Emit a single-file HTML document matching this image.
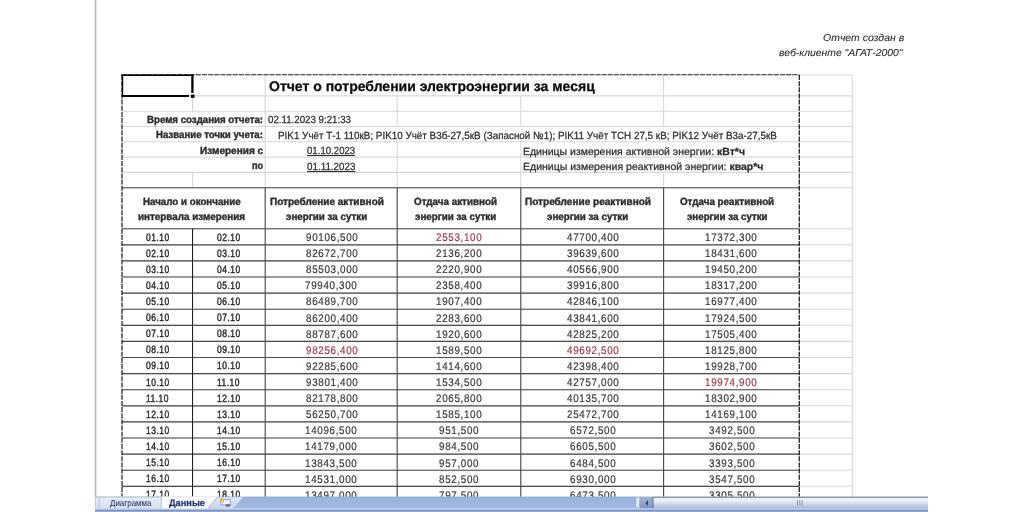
<!DOCTYPE html>
<html><head><meta charset="utf-8"><style>
html,body{margin:0;padding:0;background:#fff;width:1024px;height:512px;overflow:hidden}
body{position:relative;font-family:'Liberation Sans', sans-serif}
span{position:absolute;white-space:pre;transform-origin:0 0;line-height:normal;font-family:'Liberation Sans', sans-serif;-webkit-text-stroke:0.25px currentColor;text-rendering:geometricPrecision}
#wrap{position:absolute;left:0;top:0;width:1024px;height:512px;filter:blur(0.35px)}
</style></head><body>
<div id="wrap">
<svg width="1024" height="512" style="position:absolute;left:0;top:0"><line x1="122.00" y1="75.00" x2="852.20" y2="75.00" stroke="#d7d7d7" stroke-width="1.1" /><line x1="122.00" y1="95.90" x2="852.20" y2="95.90" stroke="#d7d7d7" stroke-width="1.1" /><line x1="122.00" y1="111.20" x2="852.20" y2="111.20" stroke="#d7d7d7" stroke-width="1.1" /><line x1="122.00" y1="126.50" x2="852.20" y2="126.50" stroke="#d7d7d7" stroke-width="1.1" /><line x1="122.00" y1="141.80" x2="852.20" y2="141.80" stroke="#d7d7d7" stroke-width="1.1" /><line x1="122.00" y1="157.10" x2="852.20" y2="157.10" stroke="#d7d7d7" stroke-width="1.1" /><line x1="122.00" y1="172.40" x2="852.20" y2="172.40" stroke="#d7d7d7" stroke-width="1.1" /><line x1="122.00" y1="187.70" x2="852.20" y2="187.70" stroke="#d7d7d7" stroke-width="1.1" /><line x1="122.00" y1="228.70" x2="852.20" y2="228.70" stroke="#d7d7d7" stroke-width="1.1" /><line x1="122.00" y1="244.80" x2="852.20" y2="244.80" stroke="#d7d7d7" stroke-width="1.1" /><line x1="122.00" y1="260.90" x2="852.20" y2="260.90" stroke="#d7d7d7" stroke-width="1.1" /><line x1="122.00" y1="277.00" x2="852.20" y2="277.00" stroke="#d7d7d7" stroke-width="1.1" /><line x1="122.00" y1="293.10" x2="852.20" y2="293.10" stroke="#d7d7d7" stroke-width="1.1" /><line x1="122.00" y1="309.20" x2="852.20" y2="309.20" stroke="#d7d7d7" stroke-width="1.1" /><line x1="122.00" y1="325.30" x2="852.20" y2="325.30" stroke="#d7d7d7" stroke-width="1.1" /><line x1="122.00" y1="341.40" x2="852.20" y2="341.40" stroke="#d7d7d7" stroke-width="1.1" /><line x1="122.00" y1="357.50" x2="852.20" y2="357.50" stroke="#d7d7d7" stroke-width="1.1" /><line x1="122.00" y1="373.60" x2="852.20" y2="373.60" stroke="#d7d7d7" stroke-width="1.1" /><line x1="122.00" y1="389.70" x2="852.20" y2="389.70" stroke="#d7d7d7" stroke-width="1.1" /><line x1="122.00" y1="405.80" x2="852.20" y2="405.80" stroke="#d7d7d7" stroke-width="1.1" /><line x1="122.00" y1="421.90" x2="852.20" y2="421.90" stroke="#d7d7d7" stroke-width="1.1" /><line x1="122.00" y1="438.00" x2="852.20" y2="438.00" stroke="#d7d7d7" stroke-width="1.1" /><line x1="122.00" y1="454.10" x2="852.20" y2="454.10" stroke="#d7d7d7" stroke-width="1.1" /><line x1="122.00" y1="470.20" x2="852.20" y2="470.20" stroke="#d7d7d7" stroke-width="1.1" /><line x1="122.00" y1="486.30" x2="852.20" y2="486.30" stroke="#d7d7d7" stroke-width="1.1" /><line x1="192.55" y1="95.90" x2="192.55" y2="111.20" stroke="#d7d7d7" stroke-width="1.1" /><line x1="192.55" y1="172.40" x2="192.55" y2="187.70" stroke="#d7d7d7" stroke-width="1.1" /><line x1="265.20" y1="75.00" x2="265.20" y2="187.70" stroke="#d7d7d7" stroke-width="1.1" /><line x1="397.20" y1="95.90" x2="397.20" y2="126.50" stroke="#d7d7d7" stroke-width="1.1" /><line x1="397.20" y1="141.80" x2="397.20" y2="187.70" stroke="#d7d7d7" stroke-width="1.1" /><line x1="520.80" y1="95.90" x2="520.80" y2="126.50" stroke="#d7d7d7" stroke-width="1.1" /><line x1="520.80" y1="141.80" x2="520.80" y2="187.70" stroke="#d7d7d7" stroke-width="1.1" /><line x1="663.60" y1="75.00" x2="663.60" y2="126.50" stroke="#d7d7d7" stroke-width="1.1" /><line x1="663.60" y1="172.40" x2="663.60" y2="187.70" stroke="#d7d7d7" stroke-width="1.1" /><line x1="852.20" y1="75.00" x2="852.20" y2="496.80" stroke="#d7d7d7" stroke-width="1.1" /><line x1="122.00" y1="187.70" x2="799.30" y2="187.70" stroke="#4a4a4a" stroke-width="1.15" /><line x1="122.00" y1="228.70" x2="799.30" y2="228.70" stroke="#4a4a4a" stroke-width="1.15" /><line x1="122.00" y1="244.80" x2="799.30" y2="244.80" stroke="#4a4a4a" stroke-width="1.15" /><line x1="122.00" y1="260.90" x2="799.30" y2="260.90" stroke="#4a4a4a" stroke-width="1.15" /><line x1="122.00" y1="277.00" x2="799.30" y2="277.00" stroke="#4a4a4a" stroke-width="1.15" /><line x1="122.00" y1="293.10" x2="799.30" y2="293.10" stroke="#4a4a4a" stroke-width="1.15" /><line x1="122.00" y1="309.20" x2="799.30" y2="309.20" stroke="#4a4a4a" stroke-width="1.15" /><line x1="122.00" y1="325.30" x2="799.30" y2="325.30" stroke="#4a4a4a" stroke-width="1.15" /><line x1="122.00" y1="341.40" x2="799.30" y2="341.40" stroke="#4a4a4a" stroke-width="1.15" /><line x1="122.00" y1="357.50" x2="799.30" y2="357.50" stroke="#4a4a4a" stroke-width="1.15" /><line x1="122.00" y1="373.60" x2="799.30" y2="373.60" stroke="#4a4a4a" stroke-width="1.15" /><line x1="122.00" y1="389.70" x2="799.30" y2="389.70" stroke="#4a4a4a" stroke-width="1.15" /><line x1="122.00" y1="405.80" x2="799.30" y2="405.80" stroke="#4a4a4a" stroke-width="1.15" /><line x1="122.00" y1="421.90" x2="799.30" y2="421.90" stroke="#4a4a4a" stroke-width="1.15" /><line x1="122.00" y1="438.00" x2="799.30" y2="438.00" stroke="#4a4a4a" stroke-width="1.15" /><line x1="122.00" y1="454.10" x2="799.30" y2="454.10" stroke="#4a4a4a" stroke-width="1.15" /><line x1="122.00" y1="470.20" x2="799.30" y2="470.20" stroke="#4a4a4a" stroke-width="1.15" /><line x1="122.00" y1="486.30" x2="799.30" y2="486.30" stroke="#4a4a4a" stroke-width="1.15" /><line x1="192.55" y1="228.70" x2="192.55" y2="496.80" stroke="#1c1c1c" stroke-width="1.05" /><line x1="265.20" y1="187.70" x2="265.20" y2="496.80" stroke="#4a4a4a" stroke-width="1.15" /><line x1="397.20" y1="187.70" x2="397.20" y2="496.80" stroke="#4a4a4a" stroke-width="1.15" /><line x1="520.80" y1="187.70" x2="520.80" y2="496.80" stroke="#4a4a4a" stroke-width="1.15" /><line x1="663.60" y1="187.70" x2="663.60" y2="496.80" stroke="#4a4a4a" stroke-width="1.15" /><line x1="122.00" y1="74.70" x2="799.30" y2="74.70" stroke="#333" stroke-width="1.0" stroke-dasharray="5 1.15"/><line x1="122.00" y1="75.00" x2="122.00" y2="496.80" stroke="#222" stroke-width="1.25" stroke-dasharray="5 1.15"/><line x1="799.30" y1="75.00" x2="799.30" y2="496.80" stroke="#222" stroke-width="1.3" stroke-dasharray="5 1.15"/><line x1="121.00" y1="75.20" x2="193.60" y2="75.20" stroke="#000" stroke-width="1.6" /><line x1="122.50" y1="74.50" x2="122.50" y2="97.00" stroke="#000" stroke-width="1.4" /><line x1="192.40" y1="74.50" x2="192.40" y2="93.00" stroke="#000" stroke-width="2.3" /><line x1="121.80" y1="96.00" x2="189.00" y2="96.00" stroke="#000" stroke-width="2.1" /><rect x="190.9" y="94.6" width="3.6" height="3.3" fill="#000"/><line x1="95.60" y1="0.00" x2="95.60" y2="497.00" stroke="#b2b2b2" stroke-width="1.5" /></svg>
<span style="left:822.70px;top:33.00px;font-size:10px;font-style:italic;-webkit-text-stroke:0.1px currentColor;color:#2a2a2a;transform:scaleX(1.0481);">Отчет создан в</span><span style="left:778.90px;top:48.00px;font-size:10px;font-style:italic;-webkit-text-stroke:0.1px currentColor;color:#2a2a2a;transform:scaleX(1.0375);">веб-клиенте "АГАТ-2000"</span><span style="left:269.00px;top:78.00px;font-size:14px;font-weight:bold;color:#0a0a0a;">Отчет о потреблении электроэнергии за месяц</span><span style="left:146.80px;top:115.00px;font-size:10.4px;font-weight:bold;-webkit-text-stroke:0.4px currentColor;color:#2c2c2c;transform:scaleX(0.9323);">Время создания отчета:</span><span style="left:267.70px;top:115.00px;font-size:10.4px;color:#2c2c2c;transform:scaleX(0.9348);">02.11.2023 9:21:33</span><span style="left:155.70px;top:130.00px;font-size:10.4px;font-weight:bold;-webkit-text-stroke:0.4px currentColor;color:#2c2c2c;transform:scaleX(0.9278);">Название точки учета:</span><span style="left:277.85px;top:131.00px;font-size:10.4px;color:#2c2c2c;transform:scaleX(0.9489);">PIK1 Учёт Т-1 110кВ; PIK10 Учёт В3б-27,5кВ (Запасной №1); PIK11 Учёт ТСН 27,5 кВ; PIK12 Учёт В3а-27,5кВ</span><span style="left:200.20px;top:146.00px;font-size:10.4px;font-weight:bold;-webkit-text-stroke:0.4px currentColor;color:#2c2c2c;transform:scaleX(0.9662);">Измерения с</span><span style="left:251.50px;top:161.00px;font-size:10.4px;font-weight:bold;-webkit-text-stroke:0.4px currentColor;color:#2c2c2c;transform:scaleX(0.8846);">по</span><span style="left:307.40px;top:146.00px;font-size:10.4px;color:#2c2c2c;transform:scaleX(0.9269);"><u>01.10.2023</u></span><span style="left:307.40px;top:162.00px;font-size:10.4px;color:#2c2c2c;transform:scaleX(0.9451);"><u>01.11.2023</u></span><span style="left:522.69px;top:147.00px;font-size:10.4px;color:#2c2c2c;transform:scaleX(1.0091);">Единицы измерения активной энергии: <b>кВт*ч</b></span><span style="left:522.69px;top:162.00px;font-size:10.4px;color:#2c2c2c;transform:scaleX(1.0127);">Единицы измерения реактивной энергии: <b>квар*ч</b></span><span style="left:142.70px;top:197.00px;font-size:10.4px;font-weight:bold;-webkit-text-stroke:0.4px currentColor;color:#2c2c2c;transform:scaleX(0.9375);">Начало и окончание</span><span style="left:137.60px;top:212.00px;font-size:10.4px;font-weight:bold;-webkit-text-stroke:0.4px currentColor;color:#2c2c2c;transform:scaleX(0.9487);">интервала измерения</span><span style="left:270.00px;top:197.00px;font-size:10.4px;font-weight:bold;-webkit-text-stroke:0.4px currentColor;color:#2c2c2c;transform:scaleX(0.9636);">Потребление активной</span><span style="left:286.10px;top:212.00px;font-size:10.4px;font-weight:bold;-webkit-text-stroke:0.4px currentColor;color:#2c2c2c;transform:scaleX(0.9430);">энергии за сутки</span><span style="left:414.00px;top:197.00px;font-size:10.4px;font-weight:bold;-webkit-text-stroke:0.4px currentColor;color:#2c2c2c;transform:scaleX(0.9460);">Отдача активной</span><span style="left:414.60px;top:212.00px;font-size:10.4px;font-weight:bold;-webkit-text-stroke:0.4px currentColor;color:#2c2c2c;transform:scaleX(0.9430);">энергии за сутки</span><span style="left:524.50px;top:197.00px;font-size:10.4px;font-weight:bold;-webkit-text-stroke:0.4px currentColor;color:#2c2c2c;transform:scaleX(0.9669);">Потребление реактивной</span><span style="left:546.80px;top:212.00px;font-size:10.4px;font-weight:bold;-webkit-text-stroke:0.4px currentColor;color:#2c2c2c;transform:scaleX(0.9419);">энергии за сутки</span><span style="left:679.90px;top:197.00px;font-size:10.4px;font-weight:bold;-webkit-text-stroke:0.4px currentColor;color:#2c2c2c;transform:scaleX(0.9430);">Отдача реактивной</span><span style="left:687.20px;top:212.00px;font-size:10.4px;font-weight:bold;-webkit-text-stroke:0.4px currentColor;color:#2c2c2c;transform:scaleX(0.9349);">энергии за сутки</span><span style="left:145.98px;top:232.00px;font-size:10.6px;letter-spacing:0.6px;-webkit-text-stroke:0.45px currentColor;color:#2c2c2c;transform:scaleX(0.8000);">01.10</span><span style="left:216.78px;top:232.00px;font-size:10.6px;letter-spacing:0.6px;-webkit-text-stroke:0.45px currentColor;color:#2c2c2c;transform:scaleX(0.8000);">02.10</span><span style="left:305.50px;top:232.00px;font-size:11.1px;letter-spacing:0.75px;-webkit-text-stroke:0.2px currentColor;color:#363636;transform:scaleX(0.8862);">90106,500</span><span style="left:436.40px;top:232.00px;font-size:11.1px;letter-spacing:0.75px;-webkit-text-stroke:0.2px currentColor;color:#a0384c;transform:scaleX(0.8862);">2553,100</span><span style="left:566.50px;top:232.00px;font-size:11.1px;letter-spacing:0.75px;-webkit-text-stroke:0.2px currentColor;color:#363636;transform:scaleX(0.8862);">47700,400</span><span style="left:705.31px;top:232.00px;font-size:11.1px;letter-spacing:0.75px;-webkit-text-stroke:0.2px currentColor;color:#363636;transform:scaleX(0.8862);">17372,300</span><span style="left:145.98px;top:248.00px;font-size:10.6px;letter-spacing:0.6px;-webkit-text-stroke:0.45px currentColor;color:#2c2c2c;transform:scaleX(0.8000);">02.10</span><span style="left:216.78px;top:248.00px;font-size:10.6px;letter-spacing:0.6px;-webkit-text-stroke:0.45px currentColor;color:#2c2c2c;transform:scaleX(0.8000);">03.10</span><span style="left:305.50px;top:248.00px;font-size:11.1px;letter-spacing:0.75px;-webkit-text-stroke:0.2px currentColor;color:#363636;transform:scaleX(0.8862);">82672,700</span><span style="left:436.40px;top:248.00px;font-size:11.1px;letter-spacing:0.75px;-webkit-text-stroke:0.2px currentColor;color:#363636;transform:scaleX(0.8862);">2136,200</span><span style="left:566.50px;top:248.00px;font-size:11.1px;letter-spacing:0.75px;-webkit-text-stroke:0.2px currentColor;color:#363636;transform:scaleX(0.8862);">39639,600</span><span style="left:705.31px;top:248.00px;font-size:11.1px;letter-spacing:0.75px;-webkit-text-stroke:0.2px currentColor;color:#363636;transform:scaleX(0.8862);">18431,600</span><span style="left:145.98px;top:264.00px;font-size:10.6px;letter-spacing:0.6px;-webkit-text-stroke:0.45px currentColor;color:#2c2c2c;transform:scaleX(0.8000);">03.10</span><span style="left:216.78px;top:264.00px;font-size:10.6px;letter-spacing:0.6px;-webkit-text-stroke:0.45px currentColor;color:#2c2c2c;transform:scaleX(0.8000);">04.10</span><span style="left:305.50px;top:264.00px;font-size:11.1px;letter-spacing:0.75px;-webkit-text-stroke:0.2px currentColor;color:#363636;transform:scaleX(0.8862);">85503,000</span><span style="left:436.40px;top:264.00px;font-size:11.1px;letter-spacing:0.75px;-webkit-text-stroke:0.2px currentColor;color:#363636;transform:scaleX(0.8862);">2220,900</span><span style="left:566.50px;top:264.00px;font-size:11.1px;letter-spacing:0.75px;-webkit-text-stroke:0.2px currentColor;color:#363636;transform:scaleX(0.8862);">40566,900</span><span style="left:705.31px;top:264.00px;font-size:11.1px;letter-spacing:0.75px;-webkit-text-stroke:0.2px currentColor;color:#363636;transform:scaleX(0.8862);">19450,200</span><span style="left:145.98px;top:280.00px;font-size:10.6px;letter-spacing:0.6px;-webkit-text-stroke:0.45px currentColor;color:#2c2c2c;transform:scaleX(0.8000);">04.10</span><span style="left:216.78px;top:280.00px;font-size:10.6px;letter-spacing:0.6px;-webkit-text-stroke:0.45px currentColor;color:#2c2c2c;transform:scaleX(0.8000);">05.10</span><span style="left:305.06px;top:280.00px;font-size:11.1px;letter-spacing:0.75px;-webkit-text-stroke:0.2px currentColor;color:#363636;transform:scaleX(0.8862);">79940,300</span><span style="left:436.40px;top:280.00px;font-size:11.1px;letter-spacing:0.75px;-webkit-text-stroke:0.2px currentColor;color:#363636;transform:scaleX(0.8862);">2358,400</span><span style="left:566.50px;top:280.00px;font-size:11.1px;letter-spacing:0.75px;-webkit-text-stroke:0.2px currentColor;color:#363636;transform:scaleX(0.8862);">39916,800</span><span style="left:705.31px;top:280.00px;font-size:11.1px;letter-spacing:0.75px;-webkit-text-stroke:0.2px currentColor;color:#363636;transform:scaleX(0.8862);">18317,200</span><span style="left:145.98px;top:296.00px;font-size:10.6px;letter-spacing:0.6px;-webkit-text-stroke:0.45px currentColor;color:#2c2c2c;transform:scaleX(0.8000);">05.10</span><span style="left:216.78px;top:296.00px;font-size:10.6px;letter-spacing:0.6px;-webkit-text-stroke:0.45px currentColor;color:#2c2c2c;transform:scaleX(0.8000);">06.10</span><span style="left:305.50px;top:296.00px;font-size:11.1px;letter-spacing:0.75px;-webkit-text-stroke:0.2px currentColor;color:#363636;transform:scaleX(0.8862);">86489,700</span><span style="left:435.96px;top:296.00px;font-size:11.1px;letter-spacing:0.75px;-webkit-text-stroke:0.2px currentColor;color:#363636;transform:scaleX(0.8862);">1907,400</span><span style="left:566.50px;top:296.00px;font-size:11.1px;letter-spacing:0.75px;-webkit-text-stroke:0.2px currentColor;color:#363636;transform:scaleX(0.8862);">42846,100</span><span style="left:705.31px;top:296.00px;font-size:11.1px;letter-spacing:0.75px;-webkit-text-stroke:0.2px currentColor;color:#363636;transform:scaleX(0.8862);">16977,400</span><span style="left:145.98px;top:312.00px;font-size:10.6px;letter-spacing:0.6px;-webkit-text-stroke:0.45px currentColor;color:#2c2c2c;transform:scaleX(0.8000);">06.10</span><span style="left:216.78px;top:312.00px;font-size:10.6px;letter-spacing:0.6px;-webkit-text-stroke:0.45px currentColor;color:#2c2c2c;transform:scaleX(0.8000);">07.10</span><span style="left:305.50px;top:313.00px;font-size:11.1px;letter-spacing:0.75px;-webkit-text-stroke:0.2px currentColor;color:#363636;transform:scaleX(0.8862);">86200,400</span><span style="left:436.40px;top:313.00px;font-size:11.1px;letter-spacing:0.75px;-webkit-text-stroke:0.2px currentColor;color:#363636;transform:scaleX(0.8862);">2283,600</span><span style="left:566.50px;top:313.00px;font-size:11.1px;letter-spacing:0.75px;-webkit-text-stroke:0.2px currentColor;color:#363636;transform:scaleX(0.8862);">43841,600</span><span style="left:705.31px;top:313.00px;font-size:11.1px;letter-spacing:0.75px;-webkit-text-stroke:0.2px currentColor;color:#363636;transform:scaleX(0.8862);">17924,500</span><span style="left:145.98px;top:328.00px;font-size:10.6px;letter-spacing:0.6px;-webkit-text-stroke:0.45px currentColor;color:#2c2c2c;transform:scaleX(0.8000);">07.10</span><span style="left:216.78px;top:328.00px;font-size:10.6px;letter-spacing:0.6px;-webkit-text-stroke:0.45px currentColor;color:#2c2c2c;transform:scaleX(0.8000);">08.10</span><span style="left:305.50px;top:329.00px;font-size:11.1px;letter-spacing:0.75px;-webkit-text-stroke:0.2px currentColor;color:#363636;transform:scaleX(0.8862);">88787,600</span><span style="left:435.96px;top:329.00px;font-size:11.1px;letter-spacing:0.75px;-webkit-text-stroke:0.2px currentColor;color:#363636;transform:scaleX(0.8862);">1920,600</span><span style="left:566.50px;top:329.00px;font-size:11.1px;letter-spacing:0.75px;-webkit-text-stroke:0.2px currentColor;color:#363636;transform:scaleX(0.8862);">42825,200</span><span style="left:705.31px;top:329.00px;font-size:11.1px;letter-spacing:0.75px;-webkit-text-stroke:0.2px currentColor;color:#363636;transform:scaleX(0.8862);">17505,400</span><span style="left:145.98px;top:344.00px;font-size:10.6px;letter-spacing:0.6px;-webkit-text-stroke:0.45px currentColor;color:#2c2c2c;transform:scaleX(0.8000);">08.10</span><span style="left:216.78px;top:344.00px;font-size:10.6px;letter-spacing:0.6px;-webkit-text-stroke:0.45px currentColor;color:#2c2c2c;transform:scaleX(0.8000);">09.10</span><span style="left:305.50px;top:345.00px;font-size:11.1px;letter-spacing:0.75px;-webkit-text-stroke:0.2px currentColor;color:#a0384c;transform:scaleX(0.8862);">98256,400</span><span style="left:435.96px;top:345.00px;font-size:11.1px;letter-spacing:0.75px;-webkit-text-stroke:0.2px currentColor;color:#363636;transform:scaleX(0.8862);">1589,500</span><span style="left:566.50px;top:345.00px;font-size:11.1px;letter-spacing:0.75px;-webkit-text-stroke:0.2px currentColor;color:#a0384c;transform:scaleX(0.8862);">49692,500</span><span style="left:705.31px;top:345.00px;font-size:11.1px;letter-spacing:0.75px;-webkit-text-stroke:0.2px currentColor;color:#363636;transform:scaleX(0.8862);">18125,800</span><span style="left:145.98px;top:360.00px;font-size:10.6px;letter-spacing:0.6px;-webkit-text-stroke:0.45px currentColor;color:#2c2c2c;transform:scaleX(0.8000);">09.10</span><span style="left:216.78px;top:360.00px;font-size:10.6px;letter-spacing:0.6px;-webkit-text-stroke:0.45px currentColor;color:#2c2c2c;transform:scaleX(0.8000);">10.10</span><span style="left:305.50px;top:361.00px;font-size:11.1px;letter-spacing:0.75px;-webkit-text-stroke:0.2px currentColor;color:#363636;transform:scaleX(0.8862);">92285,600</span><span style="left:435.96px;top:361.00px;font-size:11.1px;letter-spacing:0.75px;-webkit-text-stroke:0.2px currentColor;color:#363636;transform:scaleX(0.8862);">1414,600</span><span style="left:566.50px;top:361.00px;font-size:11.1px;letter-spacing:0.75px;-webkit-text-stroke:0.2px currentColor;color:#363636;transform:scaleX(0.8862);">42398,400</span><span style="left:705.31px;top:361.00px;font-size:11.1px;letter-spacing:0.75px;-webkit-text-stroke:0.2px currentColor;color:#363636;transform:scaleX(0.8862);">19928,700</span><span style="left:145.98px;top:377.00px;font-size:10.6px;letter-spacing:0.6px;-webkit-text-stroke:0.45px currentColor;color:#2c2c2c;transform:scaleX(0.8000);">10.10</span><span style="left:217.18px;top:377.00px;font-size:10.6px;letter-spacing:0.6px;-webkit-text-stroke:0.45px currentColor;color:#2c2c2c;transform:scaleX(0.8000);">11.10</span><span style="left:305.50px;top:377.00px;font-size:11.1px;letter-spacing:0.75px;-webkit-text-stroke:0.2px currentColor;color:#363636;transform:scaleX(0.8862);">93801,400</span><span style="left:435.96px;top:377.00px;font-size:11.1px;letter-spacing:0.75px;-webkit-text-stroke:0.2px currentColor;color:#363636;transform:scaleX(0.8862);">1534,500</span><span style="left:566.50px;top:377.00px;font-size:11.1px;letter-spacing:0.75px;-webkit-text-stroke:0.2px currentColor;color:#363636;transform:scaleX(0.8862);">42757,000</span><span style="left:705.31px;top:377.00px;font-size:11.1px;letter-spacing:0.75px;-webkit-text-stroke:0.2px currentColor;color:#a0384c;transform:scaleX(0.8862);">19974,900</span><span style="left:146.38px;top:393.00px;font-size:10.6px;letter-spacing:0.6px;-webkit-text-stroke:0.45px currentColor;color:#2c2c2c;transform:scaleX(0.8000);">11.10</span><span style="left:216.78px;top:393.00px;font-size:10.6px;letter-spacing:0.6px;-webkit-text-stroke:0.45px currentColor;color:#2c2c2c;transform:scaleX(0.8000);">12.10</span><span style="left:305.50px;top:393.00px;font-size:11.1px;letter-spacing:0.75px;-webkit-text-stroke:0.2px currentColor;color:#363636;transform:scaleX(0.8862);">82178,800</span><span style="left:436.40px;top:393.00px;font-size:11.1px;letter-spacing:0.75px;-webkit-text-stroke:0.2px currentColor;color:#363636;transform:scaleX(0.8862);">2065,800</span><span style="left:566.50px;top:393.00px;font-size:11.1px;letter-spacing:0.75px;-webkit-text-stroke:0.2px currentColor;color:#363636;transform:scaleX(0.8862);">40135,700</span><span style="left:705.31px;top:393.00px;font-size:11.1px;letter-spacing:0.75px;-webkit-text-stroke:0.2px currentColor;color:#363636;transform:scaleX(0.8862);">18302,900</span><span style="left:145.98px;top:409.00px;font-size:10.6px;letter-spacing:0.6px;-webkit-text-stroke:0.45px currentColor;color:#2c2c2c;transform:scaleX(0.8000);">12.10</span><span style="left:216.78px;top:409.00px;font-size:10.6px;letter-spacing:0.6px;-webkit-text-stroke:0.45px currentColor;color:#2c2c2c;transform:scaleX(0.8000);">13.10</span><span style="left:305.50px;top:409.00px;font-size:11.1px;letter-spacing:0.75px;-webkit-text-stroke:0.2px currentColor;color:#363636;transform:scaleX(0.8862);">56250,700</span><span style="left:435.96px;top:409.00px;font-size:11.1px;letter-spacing:0.75px;-webkit-text-stroke:0.2px currentColor;color:#363636;transform:scaleX(0.8862);">1585,100</span><span style="left:566.50px;top:409.00px;font-size:11.1px;letter-spacing:0.75px;-webkit-text-stroke:0.2px currentColor;color:#363636;transform:scaleX(0.8862);">25472,700</span><span style="left:705.31px;top:409.00px;font-size:11.1px;letter-spacing:0.75px;-webkit-text-stroke:0.2px currentColor;color:#363636;transform:scaleX(0.8862);">14169,100</span><span style="left:145.98px;top:425.00px;font-size:10.6px;letter-spacing:0.6px;-webkit-text-stroke:0.45px currentColor;color:#2c2c2c;transform:scaleX(0.8000);">13.10</span><span style="left:216.78px;top:425.00px;font-size:10.6px;letter-spacing:0.6px;-webkit-text-stroke:0.45px currentColor;color:#2c2c2c;transform:scaleX(0.8000);">14.10</span><span style="left:305.06px;top:425.00px;font-size:11.1px;letter-spacing:0.75px;-webkit-text-stroke:0.2px currentColor;color:#363636;transform:scaleX(0.8862);">14096,500</span><span style="left:439.06px;top:425.00px;font-size:11.1px;letter-spacing:0.75px;-webkit-text-stroke:0.2px currentColor;color:#363636;transform:scaleX(0.8862);">951,500</span><span style="left:569.60px;top:425.00px;font-size:11.1px;letter-spacing:0.75px;-webkit-text-stroke:0.2px currentColor;color:#363636;transform:scaleX(0.8862);">6572,500</span><span style="left:708.85px;top:425.00px;font-size:11.1px;letter-spacing:0.75px;-webkit-text-stroke:0.2px currentColor;color:#363636;transform:scaleX(0.8862);">3492,500</span><span style="left:145.98px;top:441.00px;font-size:10.6px;letter-spacing:0.6px;-webkit-text-stroke:0.45px currentColor;color:#2c2c2c;transform:scaleX(0.8000);">14.10</span><span style="left:216.78px;top:441.00px;font-size:10.6px;letter-spacing:0.6px;-webkit-text-stroke:0.45px currentColor;color:#2c2c2c;transform:scaleX(0.8000);">15.10</span><span style="left:305.06px;top:441.00px;font-size:11.1px;letter-spacing:0.75px;-webkit-text-stroke:0.2px currentColor;color:#363636;transform:scaleX(0.8862);">14179,000</span><span style="left:439.06px;top:441.00px;font-size:11.1px;letter-spacing:0.75px;-webkit-text-stroke:0.2px currentColor;color:#363636;transform:scaleX(0.8862);">984,500</span><span style="left:569.60px;top:441.00px;font-size:11.1px;letter-spacing:0.75px;-webkit-text-stroke:0.2px currentColor;color:#363636;transform:scaleX(0.8862);">6605,500</span><span style="left:708.85px;top:441.00px;font-size:11.1px;letter-spacing:0.75px;-webkit-text-stroke:0.2px currentColor;color:#363636;transform:scaleX(0.8862);">3602,500</span><span style="left:145.98px;top:457.00px;font-size:10.6px;letter-spacing:0.6px;-webkit-text-stroke:0.45px currentColor;color:#2c2c2c;transform:scaleX(0.8000);">15.10</span><span style="left:216.78px;top:457.00px;font-size:10.6px;letter-spacing:0.6px;-webkit-text-stroke:0.45px currentColor;color:#2c2c2c;transform:scaleX(0.8000);">16.10</span><span style="left:305.06px;top:458.00px;font-size:11.1px;letter-spacing:0.75px;-webkit-text-stroke:0.2px currentColor;color:#363636;transform:scaleX(0.8862);">13843,500</span><span style="left:439.06px;top:458.00px;font-size:11.1px;letter-spacing:0.75px;-webkit-text-stroke:0.2px currentColor;color:#363636;transform:scaleX(0.8862);">957,000</span><span style="left:569.60px;top:458.00px;font-size:11.1px;letter-spacing:0.75px;-webkit-text-stroke:0.2px currentColor;color:#363636;transform:scaleX(0.8862);">6484,500</span><span style="left:708.85px;top:458.00px;font-size:11.1px;letter-spacing:0.75px;-webkit-text-stroke:0.2px currentColor;color:#363636;transform:scaleX(0.8862);">3393,500</span><span style="left:145.98px;top:473.00px;font-size:10.6px;letter-spacing:0.6px;-webkit-text-stroke:0.45px currentColor;color:#2c2c2c;transform:scaleX(0.8000);">16.10</span><span style="left:216.78px;top:473.00px;font-size:10.6px;letter-spacing:0.6px;-webkit-text-stroke:0.45px currentColor;color:#2c2c2c;transform:scaleX(0.8000);">17.10</span><span style="left:305.06px;top:474.00px;font-size:11.1px;letter-spacing:0.75px;-webkit-text-stroke:0.2px currentColor;color:#363636;transform:scaleX(0.8862);">14531,000</span><span style="left:439.06px;top:474.00px;font-size:11.1px;letter-spacing:0.75px;-webkit-text-stroke:0.2px currentColor;color:#363636;transform:scaleX(0.8862);">852,500</span><span style="left:569.60px;top:474.00px;font-size:11.1px;letter-spacing:0.75px;-webkit-text-stroke:0.2px currentColor;color:#363636;transform:scaleX(0.8862);">6930,000</span><span style="left:708.85px;top:474.00px;font-size:11.1px;letter-spacing:0.75px;-webkit-text-stroke:0.2px currentColor;color:#363636;transform:scaleX(0.8862);">3547,500</span><span style="left:145.98px;top:489.00px;font-size:10.6px;letter-spacing:0.6px;-webkit-text-stroke:0.45px currentColor;color:#2c2c2c;transform:scaleX(0.8000);">17.10</span><span style="left:216.78px;top:489.00px;font-size:10.6px;letter-spacing:0.6px;-webkit-text-stroke:0.45px currentColor;color:#2c2c2c;transform:scaleX(0.8000);">18.10</span><span style="left:305.06px;top:490.00px;font-size:11.1px;letter-spacing:0.75px;-webkit-text-stroke:0.2px currentColor;color:#363636;transform:scaleX(0.8862);">13497,000</span><span style="left:438.62px;top:490.00px;font-size:11.1px;letter-spacing:0.75px;-webkit-text-stroke:0.2px currentColor;color:#363636;transform:scaleX(0.8862);">797,500</span><span style="left:569.60px;top:490.00px;font-size:11.1px;letter-spacing:0.75px;-webkit-text-stroke:0.2px currentColor;color:#363636;transform:scaleX(0.8862);">6473,500</span><span style="left:708.85px;top:490.00px;font-size:11.1px;letter-spacing:0.75px;-webkit-text-stroke:0.2px currentColor;color:#363636;transform:scaleX(0.8862);">3305,500</span>
<svg width="1024" height="512" style="position:absolute;left:0;top:0"><defs><linearGradient id="gblue" x1="0" y1="0" x2="0" y2="1"><stop offset="0" stop-color="#8aa8d2"/><stop offset="0.12" stop-color="#98b3da"/><stop offset="1" stop-color="#a4b7e0"/></linearGradient><linearGradient id="gtrack" x1="0" y1="0" x2="0" y2="1"><stop offset="0" stop-color="#f4f5fa"/><stop offset="0.35" stop-color="#e6eaf3"/><stop offset="0.8" stop-color="#bcc8dc"/><stop offset="1" stop-color="#a9b8d2"/></linearGradient><linearGradient id="gtab" x1="0" y1="0" x2="0" y2="1"><stop offset="0" stop-color="#e9eff8"/><stop offset="1" stop-color="#d5e0f1"/></linearGradient><linearGradient id="gnew" x1="0" y1="0" x2="0" y2="1"><stop offset="0" stop-color="#e2e9f8"/><stop offset="1" stop-color="#c8d5ef"/></linearGradient><linearGradient id="gbtn" x1="0" y1="0" x2="0" y2="1"><stop offset="0" stop-color="#9fb3d3"/><stop offset="1" stop-color="#8198c0"/></linearGradient></defs><rect x="95" y="496.6" width="833" height="12" fill="url(#gblue)"/><rect x="95" y="508.4" width="833" height="1.3" fill="#bfd1f3"/><rect x="95" y="509.7" width="833" height="1.2" fill="#6c85b4"/><rect x="95" y="510.9" width="833" height="1.1" fill="#93a9d8"/><rect x="95.5" y="496.7" width="66" height="11.7" fill="url(#gtab)"/><line x1="95" y1="497.1" x2="161.5" y2="497.1" stroke="#bcc3cf" stroke-width="1"/><line x1="99.2" y1="497" x2="99.2" y2="508.2" stroke="#b7c0cf" stroke-width="0.9"/><line x1="161.3" y1="497" x2="161.3" y2="508.2" stroke="#b7c0cf" stroke-width="0.9"/><polygon points="161.8,496.5 218,496.5 208.5,508.4 161.8,508.4" fill="#ffffff"/><polygon points="217.2,497.2 242.8,497.2 233.4,508.2 208.2,508.2" fill="url(#gnew)"/><line x1="208.2" y1="508.2" x2="217.4" y2="497.2" stroke="#9aa8c4" stroke-width="0.8"/><line x1="233.4" y1="508.2" x2="242.8" y2="497.2" stroke="#c9d6ef" stroke-width="0.8"/><rect x="221.0" y="499.4" width="9.2" height="5.6" fill="#f1f2f8" stroke="#8d9dc0" stroke-width="0.9"/><path d="M225.2,504.3 L230.6,504.3 L230.6,505.4 L228.6,506.8 L226.2,506.8 Z" fill="#5d6f96"/><circle cx="222.2" cy="500.1" r="2.0" fill="#e9ae3c"/><circle cx="222.3" cy="500.0" r="1.0" fill="#f6d27a"/><rect x="636" y="497.4" width="3.6" height="10.2" fill="#e4eef2" stroke="#a9b4c4" stroke-width="0.6"/><rect x="639.8" y="497.2" width="13.2" height="11" fill="url(#gbtn)"/><polygon points="648,500.3 648,506 645.3,503.1" fill="#2e4672"/><rect x="653" y="497.8" width="275" height="10.6" fill="url(#gtrack)"/><line x1="652.6" y1="497.3" x2="928" y2="497.3" stroke="#878c96" stroke-width="1"/><line x1="653" y1="497.5" x2="653" y2="508.2" stroke="#4f6488" stroke-width="0.9"/><line x1="797.5" y1="500.2" x2="797.5" y2="505.6" stroke="#7a8aa8" stroke-width="0.9"/><line x1="799.8" y1="500.2" x2="799.8" y2="505.6" stroke="#7a8aa8" stroke-width="0.9"/><line x1="802.1" y1="500.2" x2="802.1" y2="505.6" stroke="#7a8aa8" stroke-width="0.9"/></svg>
<span style="left:110.00px;top:498.00px;font-size:8.8px;-webkit-text-stroke:0.05px currentColor;color:#1f3561;transform:scaleX(0.9065);">Диаграмма</span><span style="left:169.00px;top:498.00px;font-size:9.5px;font-weight:bold;color:#1c3470;transform:scaleX(0.9730);">Данные</span>
</div>
</body></html>
